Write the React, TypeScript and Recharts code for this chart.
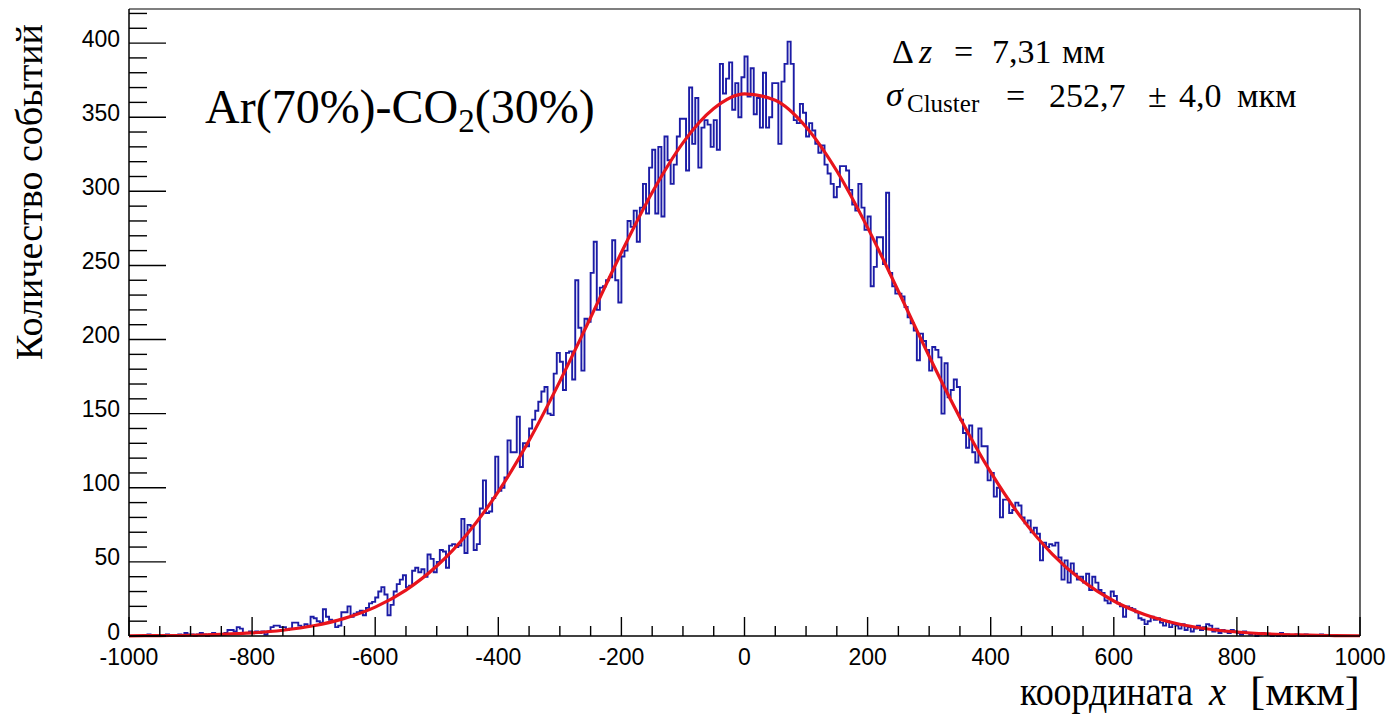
import { LineChart, Line, XAxis, YAxis, ReferenceLine } from "recharts";

// histogram: 400 bins of 5 µm from -1000 to 1000
const X_MIN = -1000;
const BIN_WIDTH = 5;
const Y_MAX = 423;

const counts = [
  0, 0, 0, 0, 0, 0, 1, 0, 0, 0,
  0, 0, 1, 0, 0, 0, 1, 0, 2, 1,
  1, 0, 1, 2, 1, 0, 1, 2, 1, 1,
  1, 2, 4, 4, 3, 6, 5, 2, 2, 3,
  2, 3, 2, 3, 1, 3, 6, 7, 7, 6,
  6, 4, 5, 9, 9, 7, 6, 8, 7, 13,
  12, 10, 9, 18, 13, 11, 10, 6, 7, 16,
  16, 20, 13, 15, 16, 17, 14, 19, 22, 23,
  26, 30, 33, 28, 14, 21, 30, 35, 38, 41,
  33, 34, 44, 46, 43, 45, 40, 55, 52, 43,
  50, 58, 57, 46, 61, 62, 60, 61, 79, 56,
  75, 74, 58, 62, 86, 105, 83, 84, 93, 121,
  98, 100, 107, 132, 124, 124, 148, 114, 130, 128,
  140, 146, 152, 158, 165, 168, 150, 149, 177, 191,
  185, 166, 191, 192, 173, 240, 208, 179, 214, 212,
  245, 266, 220, 235, 236, 240, 242, 267, 240, 225,
  256, 260, 280, 276, 287, 266, 289, 305, 285, 316,
  328, 285, 330, 283, 337, 321, 305, 318, 337, 349,
  349, 314, 370, 332, 363, 316, 343, 348, 345, 330,
  348, 328, 386, 366, 376, 387, 355, 373, 350, 377,
  391, 364, 383, 352, 363, 343, 380, 343, 350, 373,
  373, 332, 374, 386, 401, 386, 348, 346, 359, 353,
  337, 346, 341, 332, 326, 331, 318, 312, 305, 296,
  303, 317, 317, 314, 301, 291, 287, 305, 289, 274,
  283, 236, 249, 269, 269, 251, 299, 245, 236, 231,
  231, 229, 222, 215, 211, 206, 186, 204, 199, 193,
  179, 195, 193, 188, 150, 184, 161, 166, 173, 168,
  146, 137, 127, 142, 124, 117, 140, 128, 128, 105,
  110, 94, 100, 80, 92, 92, 83, 85, 90, 88,
  80, 76, 78, 70, 73, 69, 51, 63, 60, 62,
  61, 63, 53, 38, 51, 36, 49, 42, 38, 40,
  36, 42, 31, 40, 36, 31, 29, 24, 22, 30,
  27, 22, 20, 13, 20, 19, 18, 16, 12, 11,
  8, 10, 13, 11, 12, 9, 7, 10, 6, 8,
  7, 5, 8, 4, 6, 3, 5, 7, 4, 6,
  8, 7, 3, 5, 2, 4, 3, 2, 4, 3,
  2, 1, 3, 2, 1, 2, 0, 1, 2, 1,
  1, 0, 1, 0, 2, 0, 1, 0, 0, 1,
  0, 0, 1, 0, 0, 0, 0, 1, 0, 0,
  0, 0, 0, 0, 0, 0, 0, 0, 0, 0,
];

// gaussian fit
const fitX = [
  -1000, -950, -900, -850, -800, -750, -700, -650, -600, -550, -500, -450, -400, -350,
  -300, -250, -200, -150, -100, -50, 0, 50, 100, 150, 200, 250, 300, 350, 400, 450,
  500, 550, 600, 650, 700, 750, 800, 850, 900, 950, 1000,
];
const fitY = [
  0.1, 0.3, 0.5, 1.1, 2.1, 3.9, 6.9, 11.9, 19.5, 31, 47.2, 69.2, 97.4, 131.9,
  171.8, 214.9, 258.7, 299.2, 332.7, 355.8, 365.7, 361.4, 343.4, 313.7, 275.5, 232.6, 188.7, 147.3, 110.5, 79.7,
  55.3, 36.9, 23.6, 14.5, 8.6, 4.9, 2.7, 1.4, 0.7, 0.35, 0.16,
];

const xLabels = [-1000, -800, -600, -400, -200, 0, 200, 400, 600, 800, 1000];
const yLabels = [0, 50, 100, 150, 200, 250, 300, 350, 400];

const histData = counts.map((n, i) => ({ x: X_MIN + i * BIN_WIDTH, n }));
histData.push({ x: X_MIN + counts.length * BIN_WIDTH, n: counts[counts.length - 1] });
const fitData = fitX.map((x, i) => ({ x, f: fitY[i] }));

const xTicks: number[] = [];
for (let v = -1000; v <= 1000; v += 50) xTicks.push(v);
const yTicks: number[] = [];
for (let v = 0; v <= 420; v += 10) yTicks.push(v);

const SANS = "'Liberation Sans', Arial, sans-serif";
const SERIF = "'Liberation Serif', 'Times New Roman', serif";

function YTick({ x, y, payload }: any) {
  const major = yLabels.includes(payload.value);
  return (
    <g>
      <line x1={x} x2={x + (major ? 37 : 18)} y1={y} y2={y} stroke="#000" strokeWidth={1.4} />
      {major && (
        <text x={x - 9} y={y + 3.5} textAnchor="end" fontSize={23} fontFamily={SANS} fill="#000">
          {payload.value}
        </text>
      )}
    </g>
  );
}

function XTick({ x, y, payload }: any) {
  const major = xLabels.includes(payload.value);
  return (
    <g>
      <line x1={x} x2={x} y1={y} y2={y - (major ? 19 : 10)} stroke="#000" strokeWidth={1.4} />
      {major && (
        <text x={x} y={y + 29} textAnchor="middle" fontSize={23} fontFamily={SANS} fill="#000">
          {payload.value}
        </text>
      )}
    </g>
  );
}

export default function App() {
  return (
    <div style={{ position: "absolute", left: 0, top: 0, width: 1392, height: 714, background: "#fff" }}>
      <LineChart width={1392} height={714} margin={{ top: 9, right: 32, left: 0, bottom: 0 }}>
        <XAxis
          dataKey="x"
          type="number"
          domain={[-1000, 1000]}
          ticks={xTicks}
          interval={0}
          tickSize={0}
          tickMargin={0}
          tickLine={false}
          height={78}
          tick={<XTick />}
          axisLine={{ stroke: "#000", strokeWidth: 1.5 }}
        />
        <YAxis
          type="number"
          domain={[0, Y_MAX]}
          ticks={yTicks}
          interval={0}
          tickSize={0}
          tickMargin={0}
          tickLine={false}
          width={129}
          tick={<YTick />}
          axisLine={{ stroke: "#000", strokeWidth: 1.5 }}
        />
        <ReferenceLine y={Y_MAX} stroke="#000" strokeWidth={1.2} />
        <ReferenceLine x={1000} stroke="#000" strokeWidth={1.2} />
        <Line
          data={histData}
          dataKey="n"
          type="stepAfter"
          stroke="#1c1ca6"
          strokeWidth={1.9}
          dot={false}
          isAnimationActive={false}
        />
        <Line
          data={fitData}
          dataKey="f"
          type="monotone"
          stroke="#e8141c"
          strokeWidth={3.2}
          dot={false}
          isAnimationActive={false}
        />
      </LineChart>
      <svg
        width={1392}
        height={714}
        style={{ position: "absolute", left: 0, top: 0, pointerEvents: "none" }}
        fontFamily={SERIF}
        fill="#000"
      >
        <text transform="translate(42,192) rotate(-90)" textAnchor="middle" fontSize={38}>
          Количество событий
        </text>
        <text x={1020} y={705} fontSize={39} textLength={173} lengthAdjust="spacingAndGlyphs">
          координата
        </text>
        <text x={1209} y={705} fontSize={39} fontStyle="italic">x</text>
        <text x={1250} y={705} fontSize={39} textLength={110} lengthAdjust="spacingAndGlyphs">
          [мкм]
        </text>
        <text x={205} y={123} fontSize={48}>
          Ar(70%)-CO<tspan fontSize={33} dy={9}>2</tspan>
          <tspan dy={-9}>(30%)</tspan>
        </text>
        <text x={892} y={63} fontSize={34}>Δ</text>
        <text x={919} y={63} fontSize={34} fontStyle="italic">z</text>
        <text x={954} y={63} fontSize={34}>=</text>
        <text x={992} y={63} fontSize={34}>7,31</text>
        <text x={1062} y={63} fontSize={34}>мм</text>
        <text x={886} y={106} fontSize={34} fontStyle="italic">σ</text>
        <text x={907} y={112} fontSize={25}>Cluster</text>
        <text x={1006} y={107} fontSize={34}>=</text>
        <text x={1049} y={107} fontSize={34}>252,7</text>
        <text x={1148} y={107} fontSize={34}>±</text>
        <text x={1179} y={107} fontSize={34}>4,0</text>
        <text x={1237} y={107} fontSize={34}>мкм</text>
      </svg>
    </div>
  );
}
